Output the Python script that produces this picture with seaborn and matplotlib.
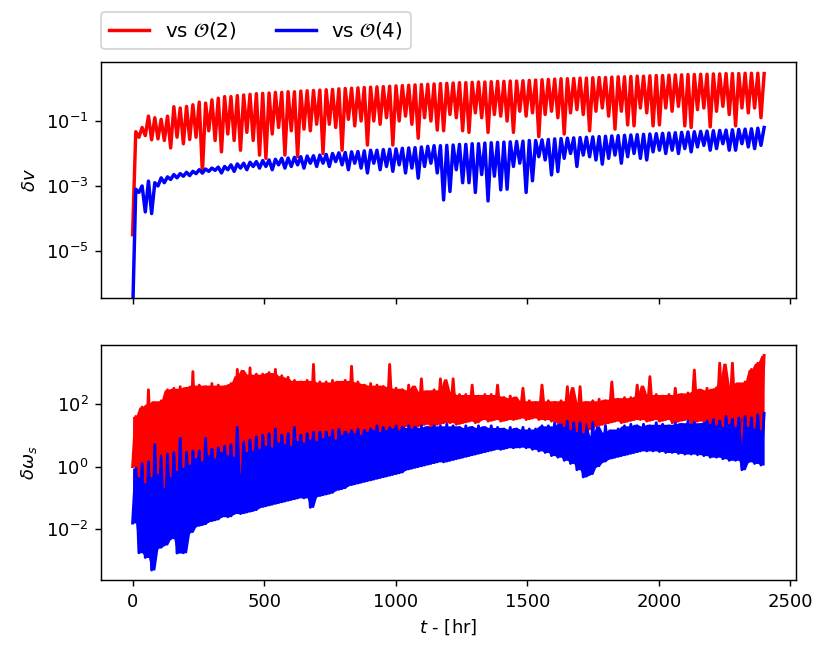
import matplotlib
matplotlib.use("Agg")
import matplotlib.pyplot as plt
import matplotlib.ticker as mticker
import seaborn as sns
import numpy as np
import pandas as pd

# log10 values, one dip + one peak per 24 hr cycle
# (dip at t = 24k, peak at t = 24k + 12)

# top panel: delta v
dv_o2_dip = [
    -4.5, -1.5, -1.45, -1.58, -1.55, -1.6, -1.83, -1.5, -1.7, -1.57,
    -1.5, -2.6, -1.3, -1.6, -1.95, -1.4, -1.6, -1.9, -1.35, -1.6,
    -2.05, -2.15, -1.4, -1.2, -2.05, -1.3, -2.1, -1.25, -1.3, -1.1,
    -2.0, -1.1, -1.2, -1.9, -0.95, -1.15, -1.0, -1.74, -1.0, -1.1,
    -0.9, -1.74, -1.0, -0.85, -1.1, -1.53, -0.9, -1.0, -1.28, -1.3,
    -0.8, -0.9, -1.3, -1.35, -0.75, -0.9, -1.35, -0.8, -0.85, -1.0,
    -1.35, -0.7, -0.85, -0.75, -1.48, -0.8, -0.7, -0.9, -1.4, -0.75,
    -0.65, -0.8, -1.3, -0.7, -0.6, -0.85, -1.25, -0.7, -1.12, -1.15,
    -0.6, -0.75, -1.15, -1.12, -0.6, -0.7, -0.55, -1.15, -1.2, -0.65,
    -0.6, -1.18, -0.7, -0.55, -0.8, -1.15, -0.6, -0.75, -0.6, -0.9,
]
dv_o2_peak = [
    -1.33, -1.2, -0.85, -0.9, -0.95, -0.85, -0.56, -0.6, -0.55, -0.5,
    -0.42, -0.45, -0.35, -0.3, -0.25, -0.25, -0.22, -0.2, -0.18, -0.16,
    -0.15, -0.14, -0.12, -0.12, -0.1, -0.1, -0.08, -0.07, -0.06, -0.05,
    -0.04, -0.03, -0.01, 0.0, 0.01, 0.02, 0.03, 0.04, 0.05, 0.06,
    0.07, 0.08, 0.09, 0.1, 0.11, 0.12, 0.13, 0.14, 0.15, 0.16,
    0.17, 0.18, 0.18, 0.19, 0.2, 0.2, 0.21, 0.22, 0.22, 0.23,
    0.23, 0.24, 0.25, 0.26, 0.27, 0.28, 0.29, 0.3, 0.3, 0.31,
    0.32, 0.32, 0.33, 0.34, 0.34, 0.35, 0.36, 0.36, 0.37, 0.38,
    0.38, 0.39, 0.4, 0.4, 0.41, 0.42, 0.42, 0.43, 0.43, 0.44,
    0.44, 0.45, 0.45, 0.46, 0.46, 0.46, 0.47, 0.47, 0.47, 0.46,
]
dv_o4_dip = [
    -7.0, -3.2, -3.8, -3.85, -3.0, -2.9, -2.8, -2.75, -2.7, -2.68,
    -2.62, -2.6, -2.55, -2.52, -2.6, -2.5, -2.55, -2.45, -2.5, -2.4,
    -2.45, -2.4, -2.5, -2.35, -2.45, -2.4, -2.35, -2.45, -2.3, -2.4,
    -2.3, -2.4, -2.25, -2.35, -2.5, -2.3, -2.45, -2.6, -2.3, -2.5,
    -2.4, -2.55, -2.35, -2.6, -2.45, -2.76, -2.4, -2.3, -2.6, -3.43,
    -3.17, -2.5, -2.9, -2.9, -3.2, -2.65, -3.46, -2.7, -3.12, -3.1,
    -2.4, -2.3, -3.2, -2.84, -2.1, -2.2, -2.66, -2.56, -2.15, -2.0,
    -2.4, -2.05, -2.1, -2.2, -2.33, -2.15, -2.05, -2.3, -2.1, -2.0,
    -2.15, -2.2, -1.95, -1.9, -2.0, -1.9, -2.0, -1.85, -1.95, -1.8,
    -1.75, -1.9, -1.85, -1.7, -1.9, -1.9, -1.7, -1.8, -1.85, -1.75,
]
dv_o4_peak = [
    -3.1, -3.0, -2.85, -2.9, -2.75, -2.72, -2.65, -2.62, -2.58, -2.55,
    -2.5, -2.48, -2.45, -2.42, -2.4, -2.35, -2.32, -2.3, -2.27, -2.25,
    -2.22, -2.2, -2.18, -2.15, -2.14, -2.12, -2.1, -2.08, -2.07, -2.05,
    -2.03, -2.0, -1.98, -1.97, -1.95, -1.94, -1.92, -1.9, -1.9, -1.88,
    -1.87, -1.86, -1.84, -1.83, -1.82, -1.8, -1.78, -1.76, -1.76, -1.75,
    -1.74, -1.72, -1.72, -1.7, -1.7, -1.68, -1.67, -1.66, -1.65, -1.64,
    -1.63, -1.62, -1.6, -1.6, -1.58, -1.57, -1.55, -1.54, -1.53, -1.52,
    -1.51, -1.5, -1.49, -1.48, -1.47, -1.46, -1.45, -1.44, -1.43, -1.42,
    -1.41, -1.4, -1.39, -1.38, -1.37, -1.36, -1.35, -1.34, -1.33, -1.32,
    -1.31, -1.3, -1.29, -1.28, -1.27, -1.26, -1.25, -1.24, -1.22, -1.2,
]

# bottom panel: delta omega_s (fast oscillation fills a band, spikes on top)
dw_o2_dip = [
    0.0, -0.3, -0.5, -0.3, -0.2, -0.64, -0.3, -0.1, 0.0, 0.1,
    0.3, 0.2, 0.4, 0.3, 0.5, 0.4, 0.35, -0.2, 0.5, 0.55,
    0.6, 0.7, 0.65, 0.8, 0.75, 0.7, 0.85, 0.8, 0.9, 0.85,
    0.95, 1.0, 0.9, 1.05, 1.1, 1.1, 1.05, 1.15, 1.2, 1.15,
    1.2, 1.25, 1.2, 1.3, 1.25, 1.3, 1.35, 1.3, 1.35, 1.4,
    1.4, 1.35, 1.4, 1.45, 1.4, 1.5, 1.45, 1.5, 1.45, 1.5,
    1.5, 1.55, 1.5, 1.55, 1.5, 1.5, 1.45, 1.4, 1.3, 1.2,
    1.15, 1.1, 1.2, 1.3, 1.35, 1.4, 1.45, 1.4, 1.45, 1.5,
    1.5, 1.45, 1.5, 1.45, 1.5, 1.4, 1.45, 1.5, 1.4, 1.45,
    1.45, 1.4, 1.35, 1.3, 1.4, 1.3, 0.0, 1.3, 1.25, 1.2,
]
dw_o2_peak = [
    1.6, 1.9, 2.45, 2.0, 2.1, 2.45, 2.5, 2.55, 2.5, 3.03,
    2.6, 2.55, 2.65, 2.6, 2.55, 2.65, 3.1, 2.9, 3.15, 2.95,
    2.95, 3.0, 3.1, 2.9, 2.85, 2.75, 2.7, 2.75, 3.26, 2.7,
    2.7, 2.75, 2.65, 2.75, 3.2, 2.7, 2.6, 2.65, 2.6, 2.55,
    3.26, 2.5, 2.45, 2.6, 2.4, 2.8, 2.35, 2.45, 2.8, 2.4,
    2.8, 2.3, 2.3, 2.6, 2.25, 2.3, 2.3, 2.6, 2.2, 2.25,
    2.1, 2.5, 2.1, 2.05, 2.6, 2.1, 2.05, 2.1, 2.55, 2.0,
    2.55, 2.05, 2.1, 2.15, 2.1, 2.7, 2.15, 2.2, 2.2, 2.6,
    2.25, 2.87, 2.3, 2.25, 2.3, 2.5, 2.3, 2.35, 3.08, 2.4,
    2.5, 2.45, 3.3, 2.6, 3.3, 2.55, 2.7, 3.1, 3.3, 3.55,
]
dw_o4_dip = [
    -1.8, -2.75, -2.9, -3.3, -2.6, -2.5, -2.3, -2.76, -2.75, -2.1,
    -1.9, -1.85, -1.75, -1.7, -1.6, -1.6, -1.5, -1.5, -1.45, -1.4,
    -1.3, -1.25, -1.2, -1.15, -1.1, -1.05, -1.0, -1.0, -1.3, -0.95,
    -0.9, -0.85, -0.75, -0.7, -0.6, -0.55, -0.5, -0.45, -0.4, -0.35,
    -0.3, -0.25, -0.2, -0.1, -0.05, 0.0, 0.05, 0.1, 0.15, 0.15,
    0.2, 0.25, 0.3, 0.35, 0.4, 0.45, 0.5, 0.55, 0.55, 0.6,
    0.6, 0.62, 0.6, 0.55, 0.5, 0.45, 0.35, 0.3, 0.2, 0.1,
    -0.1, -0.33, -0.25, 0.0, 0.15, 0.25, 0.3, 0.35, 0.4, 0.45,
    0.5, 0.5, 0.5, 0.48, 0.45, 0.45, 0.42, 0.4, 0.4, 0.38,
    0.35, 0.3, 0.3, 0.25, 0.2, 0.2, -0.1, 0.15, 0.1, 0.05,
]
dw_o4_peak = [
    -0.05, 0.1, 0.15, 0.7, 0.3, 0.4, 0.45, 0.9, 0.45, 0.5,
    0.5, 0.9, 0.55, 0.6, 0.65, 0.7, 1.25, 0.75, 0.85, 0.95,
    1.0, 1.05, 1.2, 1.0, 1.05, 1.25, 1.0, 1.05, 1.1, 1.1,
    1.1, 1.15, 1.2, 1.1, 1.15, 1.2, 1.15, 1.2, 1.3, 1.25,
    1.25, 1.3, 1.25, 1.3, 1.25, 1.3, 1.25, 1.3, 1.3, 1.35,
    1.3, 1.25, 1.3, 1.25, 1.3, 1.25, 1.3, 1.25, 1.2, 1.25,
    1.2, 1.25, 1.2, 1.2, 1.3, 1.3, 1.4, 1.3, 1.45, 1.4,
    1.4, 0.9, 1.4, 1.0, 1.3, 1.1, 1.2, 1.3, 1.35, 1.3,
    1.35, 1.3, 1.4, 1.35, 1.3, 1.4, 1.35, 1.45, 1.4, 1.35,
    1.45, 1.5, 1.45, 1.6, 1.5, 1.55, 1.6, 1.55, 1.65, 1.7,
]

t_end = 2400  # hr
labels = [r"vs $\mathcal{O}(2)$", r"vs $\mathcal{O}(4)$"]
colors = ["red", "blue"]


def series(dips, peaks):
    """interleave dips and peaks into one trace"""
    v = np.column_stack([dips, peaks]).ravel()
    t = np.linspace(0, t_end, len(v))
    # band core: median of neighbouring peaks (drops lone spikes)
    p = np.asarray(peaks)
    core = np.median(np.vstack([np.r_[p[0], p[:-1]], p, np.r_[p[1:], p[-1]]]), axis=0)
    return pd.DataFrame({"t": t, "v": 10.0 ** v,
                         "lo": 10.0 ** np.repeat(dips, 2),
                         "hi": 10.0 ** np.repeat(core, 2)})


fig = plt.figure(figsize=(830 / 130, 654 / 130), dpi=130)
ax1 = fig.add_axes([0.1217, 0.5448, 0.837, 0.3599])
ax2 = fig.add_axes([0.1217, 0.1131, 0.837, 0.3594], sharex=ax1)

top = [series(dv_o2_dip, dv_o2_peak), series(dv_o4_dip, dv_o4_peak)]
bot = [series(dw_o2_dip, dw_o2_peak), series(dw_o4_dip, dw_o4_peak)]

for df, c, lab in zip(top, colors, labels):
    sns.lineplot(data=df, x="t", y="v", ax=ax1, color=c, lw=1.9,
                 label=lab, estimator=None, sort=False)
for df, c in zip(bot, colors):
    ax2.fill_between(df["t"], df["lo"], df["hi"], color=c, lw=0)
    sns.lineplot(data=df, x="t", y="v", ax=ax2, color=c, lw=1.6,
                 legend=False, estimator=None, sort=False)

ax1.set_yscale("log")
ax2.set_yscale("log")
ax1.set_ylim(10 ** -6.44, 10 ** 0.806)
ax2.set_ylim(10 ** -3.62, 10 ** 3.88)
ax1.set_yticks([1e-5, 1e-3, 1e-1])
ax2.set_yticks([1e-2, 1e0, 1e2])
for ax in (ax1, ax2):
    ax.yaxis.set_minor_locator(mticker.NullLocator())
ax1.set_xlim(-120, 2520)
ax1.set_xticks([0, 500, 1000, 1500, 2000, 2500])
ax1.tick_params(labelbottom=False)

ax1.set_xlabel("")
ax1.set_ylabel(r"$\delta v$")
ax2.set_ylabel(r"$\delta \omega_s$")
ax2.set_xlabel(r"$t$ - [hr]")

ax1.legend(loc="lower left", bbox_to_anchor=(0, 1.055), ncol=2,
           borderaxespad=0, fontsize=11)

fig.savefig("out.png", dpi=130)
